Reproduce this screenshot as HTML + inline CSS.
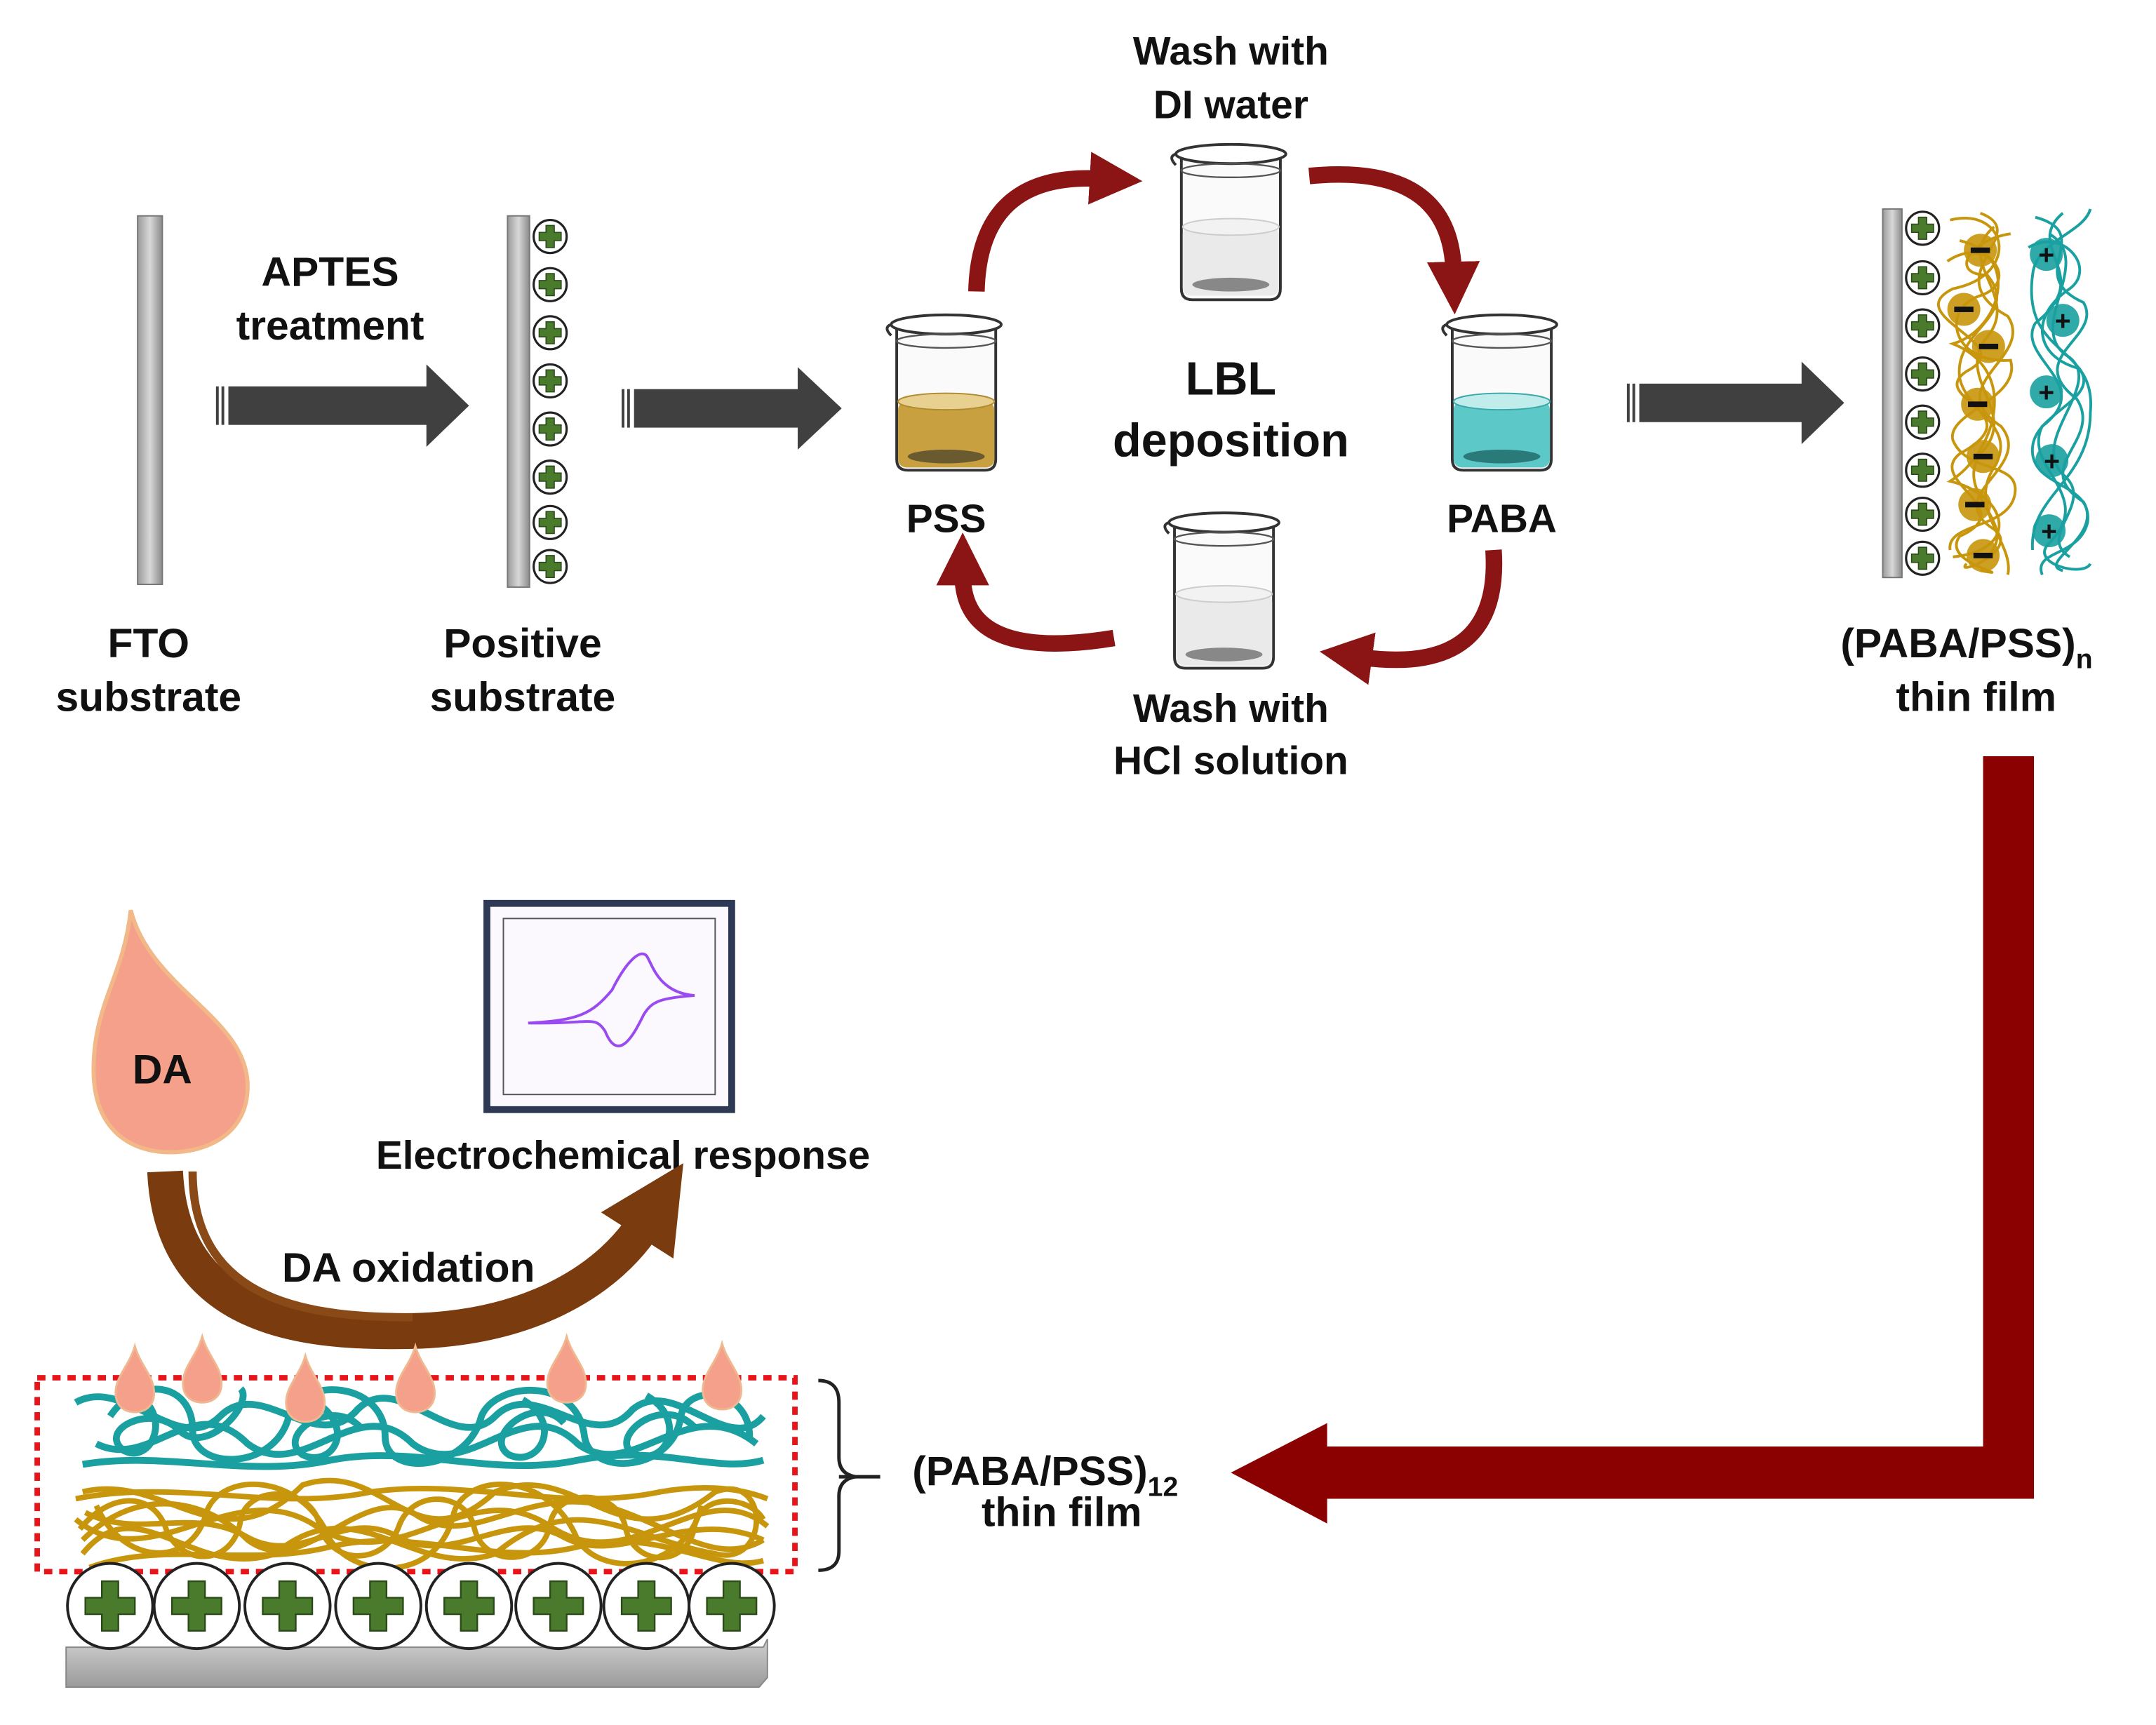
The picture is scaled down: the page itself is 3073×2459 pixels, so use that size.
<!DOCTYPE html>
<html><head><meta charset="utf-8"><style>
html,body{margin:0;padding:0;background:#fff}
svg{display:block}
text{font-family:"Liberation Sans",Arial,sans-serif;font-weight:bold;fill:#111;text-anchor:middle}
</style></head><body>
<svg width="3073" height="2459" viewBox="0 0 1552 1242" xmlns="http://www.w3.org/2000/svg">
<defs>
<linearGradient id="bar" x1="0" x2="1"><stop offset="0" stop-color="#9a9a9a"/><stop offset="0.5" stop-color="#d8d8d8"/><stop offset="1" stop-color="#8a8a8a"/></linearGradient>
<linearGradient id="slab" x1="0" y1="0" x2="0" y2="1"><stop offset="0" stop-color="#d0d0d0"/><stop offset="1" stop-color="#9a9a9a"/></linearGradient>
<marker id="rh" viewBox="0 0 10 10" refX="2" refY="5" markerWidth="3.2" markerHeight="3.2" orient="auto"><path d="M0,0 L10,5 L0,10 z" fill="#8b1414"/></marker>
<marker id="bh" viewBox="0 0 10 10" refX="2" refY="5" markerWidth="2.4" markerHeight="2.4" orient="auto"><path d="M0,0 L10,5 L0,10 z" fill="#7a3b0e"/></marker>
<g id="plus"><circle r="12" fill="#fff" stroke="#222" stroke-width="1.6"/><path d="M-3,-8h6v5h5v6h-5v5h-6v-5h-5v-6h5z" fill="#4a7a2c" stroke="#2a4a18" stroke-width="0.8"/></g>
<g id="bplus"><circle r="31" fill="#fff" stroke="#222" stroke-width="2"/><path d="M-6,-18h12v12h12v12h-12v12h-12v-12h-12v-12h12z" fill="#4a7a2c" stroke="#2a4a18" stroke-width="1.2"/></g>
<g id="beaker"><path d="M-36,0 L-36,98 Q-36,106 -28,106 L28,106 Q36,106 36,98 L36,0" fill="#fafafa" stroke="#333" stroke-width="2"/><ellipse cx="0" cy="0" rx="40" ry="7" fill="#fff" stroke="#333" stroke-width="2"/><path d="M-40,0 Q-46,2 -40,8" fill="none" stroke="#333" stroke-width="2"/><ellipse cx="0" cy="12" rx="36" ry="5" fill="none" stroke="#555" stroke-width="1.2"/></g>
<g id="drop"><path d="M0,-28 C4,-14 14,-6 14,6 C14,16 7,20 0,20 C-7,20 -14,16 -14,6 C-14,-6 -4,-14 0,-28z" fill="#f5a08a" stroke="#f0b890" stroke-width="1.5"/></g>
</defs>
<g transform="scale(0.99)">
<!-- FTO -->
<rect x="100" y="157" width="18" height="268" fill="url(#bar)" stroke="#777"/>
<text x="108" y="478" font-size="30">FTO</text>
<text x="108" y="517" font-size="30">substrate</text>

<text x="240" y="208" font-size="30">APTES</text>
<text x="240" y="247" font-size="30">treatment</text>
<g fill="#404040"><rect x="157" y="281" width="2" height="28"/><rect x="161" y="281" width="2" height="28"/><rect x="166" y="281" width="146" height="28"/><path d="M310,265 L341,295 L310,325z"/></g>

<rect x="369" y="157" width="16" height="270" fill="url(#bar)" stroke="#777"/>
<g><use href="#plus" x="400" y="172"/><use href="#plus" x="400" y="207"/><use href="#plus" x="400" y="242"/><use href="#plus" x="400" y="277"/><use href="#plus" x="400" y="312"/><use href="#plus" x="400" y="347"/><use href="#plus" x="400" y="380"/><use href="#plus" x="400" y="412"/></g>
<text x="380" y="478" font-size="30">Positive</text>
<text x="380" y="517" font-size="30">substrate</text>

<g fill="#404040"><rect x="452" y="283" width="2" height="28"/><rect x="456" y="283" width="2" height="28"/><rect x="461" y="283" width="122" height="28"/><path d="M580,267 L612,297 L580,327z"/></g>

<text x="895" y="47" font-size="29">Wash with</text>
<text x="895" y="86" font-size="29">DI water</text>
<text x="895" y="287" font-size="34">LBL</text>
<text x="895" y="332" font-size="34">deposition</text>
<text x="688" y="387" font-size="29">PSS</text>
<text x="1092" y="387" font-size="29">PABA</text>
<text x="895" y="525" font-size="29">Wash with</text>
<text x="895" y="563" font-size="29">HCl solution</text>

<use href="#beaker" x="895" y="112"/>
<rect x="860" y="165" width="70" height="50" rx="6" fill="#eaeaea"/><ellipse cx="895" cy="165" rx="35" ry="6" fill="#f2f2f2" stroke="#ccc"/><ellipse cx="895" cy="207" rx="28" ry="5" fill="#888"/>
<use href="#beaker" x="890" y="380"/>
<rect x="855" y="432" width="70" height="52" rx="6" fill="#eaeaea"/><ellipse cx="890" cy="432" rx="35" ry="6" fill="#f2f2f2" stroke="#ccc"/><ellipse cx="890" cy="476" rx="28" ry="5" fill="#888"/>
<use href="#beaker" x="688" y="236"/>
<rect x="653" y="292" width="70" height="48" rx="6" fill="#c8a040"/><ellipse cx="688" cy="292" rx="35" ry="6" fill="#e8d090" stroke="#b08a30"/><ellipse cx="688" cy="332" rx="28" ry="5" fill="#6a5a30"/>
<use href="#beaker" x="1092" y="236"/>
<rect x="1057" y="292" width="70" height="48" rx="6" fill="#5cc8c8"/><ellipse cx="1092" cy="292" rx="35" ry="6" fill="#c0ecec" stroke="#3aa8a8"/><ellipse cx="1092" cy="332" rx="28" ry="5" fill="#2a7a7a"/>

<g fill="none" stroke="#8b1414" stroke-width="12" marker-end="url(#rh)">
<path d="M710,212 Q712,125 800,130"/>
<path d="M952,128 Q1055,118 1057,198"/>
<path d="M1086,400 Q1092,492 990,478"/>
<path d="M810,464 Q700,482 700,418"/>
</g>

<g fill="#404040"><rect x="1183" y="279" width="2" height="28"/><rect x="1187" y="279" width="2" height="28"/><rect x="1192" y="279" width="120" height="28"/><path d="M1310,263 L1341,293 L1310,323z"/></g>

<!-- Right film -->
<rect x="1369" y="152" width="14" height="268" fill="url(#bar)" stroke="#777"/>
<g fill="none" stroke-width="2">
<g stroke="#c8960c"><path d="M1418,160 C1460,150 1470,200 1420,210 C1380,230 1470,250 1430,270 C1400,290 1480,300 1425,330 C1400,350 1470,370 1425,390 C1410,410 1470,420 1440,415"/><path d="M1440,155 C1480,170 1405,200 1460,230 C1480,260 1410,280 1455,310 C1480,340 1410,360 1450,385 C1470,400 1420,420 1430,410"/><path d="M1425,175 C1470,185 1455,240 1420,250 C1470,270 1450,330 1418,350 C1460,360 1470,400 1420,405"/><path d="M1450,165 C1420,190 1470,215 1445,245 C1420,275 1470,300 1440,330 C1420,360 1470,380 1445,405"/><path d="M1416,190 C1445,170 1470,205 1440,215 C1410,225 1420,265 1462,262 C1470,290 1415,300 1420,320 C1430,345 1470,335 1465,360 C1460,385 1415,380 1418,400"/><path d="M1462,170 C1430,175 1418,200 1445,200 C1470,230 1420,240 1425,275 C1430,300 1468,310 1450,340 C1430,370 1465,395 1460,418"/></g>
<g stroke="#1aa0a0"><path d="M1480,158 C1525,170 1470,200 1515,220 C1530,245 1470,260 1510,290 C1530,320 1475,340 1515,365 C1530,390 1480,410 1500,415"/><path d="M1500,155 C1470,180 1525,200 1480,235 C1465,260 1525,280 1485,310 C1470,340 1525,360 1490,395 C1475,410 1515,420 1520,410"/><path d="M1490,170 C1525,190 1470,240 1505,260 C1530,280 1475,320 1500,345 C1525,365 1480,390 1505,405"/><path d="M1520,152 C1515,170 1480,175 1478,200 C1470,260 1525,250 1520,300 C1520,350 1475,360 1478,400"/><path d="M1475,180 C1500,165 1525,195 1505,210 C1475,230 1480,260 1512,268 C1528,290 1480,300 1478,325 C1475,355 1522,350 1518,380 C1512,405 1478,400 1485,418"/></g>
</g>
<g fill="#c8960c" opacity="0.9"><circle cx="1440" cy="182" r="12"/><circle cx="1428" cy="225" r="12"/><circle cx="1446" cy="252" r="12"/><circle cx="1438" cy="294" r="12"/><circle cx="1442" cy="332" r="12"/><circle cx="1436" cy="367" r="12"/><circle cx="1442" cy="404" r="12"/></g>
<g fill="#1aa0a0" opacity="0.9"><circle cx="1488" cy="185" r="12"/><circle cx="1500" cy="233" r="12"/><circle cx="1488" cy="285" r="12"/><circle cx="1492" cy="335" r="12"/><circle cx="1490" cy="386" r="12"/></g>
<g fill="#111"><rect x="1433" y="180" width="14" height="4"/><rect x="1421" y="223" width="14" height="4"/><rect x="1439" y="250" width="14" height="4"/><rect x="1431" y="292" width="14" height="4"/><rect x="1435" y="330" width="14" height="4"/><rect x="1429" y="365" width="14" height="4"/><rect x="1435" y="402" width="14" height="4"/></g>
<g font-size="20"><text x="1488" y="192">+</text><text x="1500" y="240">+</text><text x="1488" y="292">+</text><text x="1492" y="342">+</text><text x="1490" y="393">+</text></g>
<g><use href="#plus" x="1398" y="166"/><use href="#plus" x="1398" y="202"/><use href="#plus" x="1398" y="237"/><use href="#plus" x="1398" y="272"/><use href="#plus" x="1398" y="307"/><use href="#plus" x="1398" y="342"/><use href="#plus" x="1398" y="374"/><use href="#plus" x="1398" y="406"/></g>
<text x="1430" y="478" font-size="30">(PABA/PSS)<tspan font-size="20" dy="8">n</tspan></text>
<text x="1437" y="517" font-size="30">thin film</text>

<path d="M1442,550 H1479 V1090 H965 V1108 L895,1071 L965,1035 V1052 H1442 Z" fill="#8b0000"/>
<text x="760" y="1080" font-size="30">(PABA/PSS)<tspan font-size="20" dy="8">12</tspan></text>
<text x="772" y="1110" font-size="30">thin film</text>

<path d="M95,662 C110,720 180,740 180,790 C180,825 150,838 124,838 C95,838 68,822 68,778 C68,730 90,710 95,662 Z" fill="#f5a08a" stroke="#f2b888" stroke-width="3"/>
<text x="118" y="788" font-size="30">DA</text>

<rect x="354" y="657" width="178" height="150" fill="#fbf9fd" stroke="#2e3a55" stroke-width="5"/>
<rect x="366" y="668" width="154" height="128" fill="none" stroke="#555" stroke-width="1"/>
<path d="M384,744 C420,742 430,738 445,720 C455,700 465,690 470,695 C474,700 478,722 505,724 C480,726 474,728 468,738 C462,750 450,775 440,750 C432,738 430,745 384,744" fill="none" stroke="#9a4af0" stroke-width="2"/>
<text x="453" y="850" font-size="29">Electrochemical response</text>

<path d="M120,852 C125,960 220,970 300,968 C380,966 440,935 470,888" fill="none" stroke="#7a3b0e" stroke-width="26" marker-end="url(#bh)"/>
<path d="M140,852 C140,950 230,958 300,958" fill="none" stroke="#8a4a18" stroke-width="6"/>
<text x="297" y="932" font-size="30">DA oxidation</text>

<path d="M48,1198 H555 L558,1192 V1220 L552,1227 H48 Z" fill="url(#slab)" stroke="#888"/>
<g fill="none" stroke="#c8960c" stroke-width="4">
<path d="M60,1085 C120,1070 160,1140 220,1080 C280,1060 300,1140 360,1085 C420,1060 450,1140 520,1085 C560,1070 560,1140 520,1130 C460,1120 420,1080 360,1130 C300,1150 260,1080 200,1130 C140,1150 100,1080 60,1130"/>
<path d="M55,1105 C110,1150 170,1070 230,1110 C290,1150 340,1070 400,1110 C460,1150 510,1070 558,1110"/>
<path d="M60,1120 C100,1080 150,1090 180,1120 C220,1150 260,1080 300,1100 C340,1130 380,1080 440,1095 C490,1110 520,1140 555,1120"/>
<path d="M70,1095 C90,1140 140,1140 150,1100 C160,1070 220,1070 240,1120 C260,1150 320,1150 330,1100 C340,1070 400,1070 420,1120 C440,1150 500,1140 510,1095"/>
<path d="M65,1140 C120,1120 180,1140 240,1125 C300,1110 360,1140 420,1125 C480,1110 520,1145 555,1135"/>
<path d="M55,1090 C130,1075 200,1100 270,1085 C340,1075 410,1100 480,1085 C520,1078 545,1085 558,1090"/>
<path d="M58,1112 C80,1085 110,1085 120,1110 C130,1140 170,1140 175,1105 C180,1080 225,1080 232,1108 C240,1140 280,1138 290,1110 C300,1082 340,1085 345,1112 C352,1140 395,1140 400,1108 C405,1082 450,1082 455,1112 C462,1140 500,1140 505,1110 C510,1085 545,1088 555,1105"/>
<path d="M62,1100 C100,1120 140,1095 180,1118 C220,1140 250,1095 290,1118 C330,1140 370,1095 410,1118 C450,1140 500,1095 555,1120"/>
</g>
<g fill="none" stroke="#1aa0a0" stroke-width="5">
<path d="M55,1020 C90,1000 130,1060 160,1030 C190,1000 230,1060 260,1025 C290,995 330,1060 360,1030 C390,1000 430,1060 460,1025 C490,1000 530,1060 555,1030"/>
<path d="M70,1050 C110,1070 140,1010 180,1050 C220,1080 260,1010 300,1050 C340,1080 380,1010 420,1050 C460,1080 500,1010 550,1050"/>
<path d="M80,1030 C100,1000 140,1005 140,1040 C140,1070 200,1070 210,1030 C220,1000 280,1005 280,1045 C280,1075 340,1070 350,1030 C360,1005 420,1000 425,1045 C430,1075 490,1070 495,1030 C500,1005 545,1010 545,1045"/>
<path d="M60,1065 C120,1055 180,1075 240,1062 C300,1050 360,1075 420,1062 C480,1050 520,1072 555,1062"/>
<path d="M100,1015 C125,1030 110,1065 90,1055 C70,1040 110,1020 130,1040 C150,1060 185,1020 175,1010 M230,1020 C260,1040 240,1068 220,1058 C200,1045 240,1015 262,1038 M380,1018 C410,1035 392,1068 370,1058 C350,1045 390,1012 410,1035 M470,1015 C500,1032 485,1066 462,1058 C440,1048 480,1012 505,1038"/>
</g>
<rect x="27" y="1002" width="551" height="141" fill="none" stroke="#e8141a" stroke-width="4" stroke-dasharray="6,5"/>
<g><use href="#drop" x="98" y="1007"/><use href="#drop" x="147" y="1000"/><use href="#drop" x="222" y="1014"/><use href="#drop" x="302" y="1007"/><use href="#drop" x="412" y="1000"/><use href="#drop" x="525" y="1005"/></g>
<g><use href="#bplus" x="80" y="1168"/><use href="#bplus" x="143" y="1168"/><use href="#bplus" x="209" y="1168"/><use href="#bplus" x="275" y="1168"/><use href="#bplus" x="341" y="1168"/><use href="#bplus" x="406" y="1168"/><use href="#bplus" x="470" y="1168"/><use href="#bplus" x="532" y="1168"/></g>
<path d="M595,1004 Q610,1004 610,1020 V1060 Q610,1072 622,1074 Q610,1076 610,1088 V1128 Q610,1142 595,1142" fill="none" stroke="#222" stroke-width="2.5"/>
<line x1="610" y1="1074" x2="640" y2="1074" stroke="#222" stroke-width="2.5"/>
</g>
</svg>
</body></html>
